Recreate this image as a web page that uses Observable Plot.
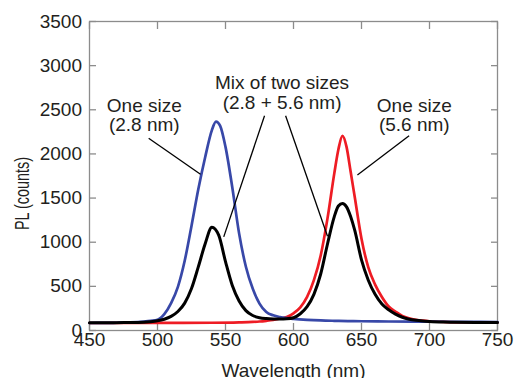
<!DOCTYPE html>
<html><head><meta charset="utf-8">
<script src="https://cdn.jsdelivr.net/npm/d3@7"></script>
<script src="https://cdn.jsdelivr.net/npm/@observablehq/plot@0.6"></script>
<style>body{margin:0;background:#fff}</style>
</head><body><div id="chart"></div>
<script>
// ---- data ----
const xTicks = [450, 500, 550, 600, 650, 700, 750];
const yTicks = [0, 500, 1000, 1500, 2000, 2500, 3000, 3500];

// One size (2.8 nm) - blue
const blueNm =     [450,460,470,480,490,495,500,505,510,515,520,525,530,535,540,543,546,550,555,560,565,570,575,580,585,590,595,600,610,620,630,640,650,670,700,725,750];
const blueCounts = [85,86,88,92,102,110,122,185,310,495,790,1185,1600,1960,2270,2367,2320,2080,1620,1100,722,475,305,210,172,152,140,132,121,114,110,107,105,102,100,98,96];

// One size (5.6 nm) - red
const redNm =     [450,480,510,540,560,570,575,580,585,590,595,600,605,610,615,620,625,630,633,636,639,642,645,650,655,660,665,670,675,680,685,690,695,700,710,720,735,750];
const redCounts = [85,86,87,88,92,97,102,110,120,135,152,195,262,380,570,850,1270,1780,2050,2205,2080,1800,1515,1040,715,520,380,272,215,165,138,122,112,105,97,93,91,90];

// Mix of two sizes - black
const mixNm =     [450,460,470,480,490,495,500,505,510,515,520,525,530,535,540,545,550,555,560,565,570,575,580,585,590,595,600,605,610,615,620,625,630,633,636,639,642,645,650,655,660,665,670,675,680,685,690,695,700,710,720,735,750];
const mixCounts = [88,88,89,90,94,100,110,128,160,215,310,475,720,980,1170,1080,780,510,335,225,170,145,135,131,130,133,145,190,270,410,640,980,1290,1410,1439,1400,1290,1136,800,570,410,300,235,185,150,128,115,107,102,96,93,92,92];

// annotations
const annotLabels = ["One size\n(2.8 nm)", "Mix of two sizes\n(2.8 + 5.6 nm)", "One size\n(5.6 nm)"];
const annotNm = [490.3, 591.6, 688.8];
const annotCounts = [2434, 2697, 2434];
const annotLineHeight = [0.97, 1.05, 0.97];
const leaderNm1 = [493.5, 578.7, 594.2, 685];
const leaderCounts1 = [2178, 2432, 2432, 2205];
const leaderNm2 = [531.6, 548.7, 625, 647];
const leaderCounts2 = [1769, 1060, 1068, 1761];

const xTitle = "Wavelength (nm)";
const yTitle = "PL (counts)";

// ---- chart ----
const toRows = (nm, counts) => nm.map((x, i) => ({nm: x, counts: counts[i]}));
const gray = "#8c8c8c";
const ink = "#231f20";
const plain = d => String(d);

const annotMarks = annotLabels.map((t, i) =>
  Plot.text([t], {x: () => annotNm[i], y: () => annotCounts[i], text: d => d,
    lineAnchor: "middle", textAnchor: "middle", lineHeight: annotLineHeight[i], fill: ink, fontSize: 19})
);

const chart = Plot.plot({
  width: 515, height: 378,
  marginLeft: 89, marginRight: 18, marginTop: 21, marginBottom: 48,
  x: {domain: [450, 750], label: null},
  y: {domain: [0, 3500], label: null},
  style: {fontFamily: "'Liberation Sans', Arial, Helvetica, sans-serif", fontSize: "19px", color: ink, background: "#fff"},
  marks: [
    Plot.frame({stroke: gray, strokeWidth: 1.3}),
    Plot.axisX(xTicks, {anchor: "bottom", tickSize: -7, tickFormat: () => "", stroke: gray, strokeWidth: 1.3, label: null}),
    Plot.axisX(xTicks, {anchor: "top", tickSize: -7, tickFormat: () => "", stroke: gray, strokeWidth: 1.3, label: null}),
    Plot.axisY(yTicks, {anchor: "left", tickSize: -7, tickFormat: () => "", stroke: gray, strokeWidth: 1.3, label: null}),
    Plot.axisY(yTicks, {anchor: "right", tickSize: -7, tickFormat: () => "", stroke: gray, strokeWidth: 1.3, label: null}),
    Plot.axisX(xTicks, {anchor: "bottom", tickSize: 0, tickPadding: 2, tickFormat: plain, label: null, fill: ink}),
    Plot.axisY(yTicks, {anchor: "left", tickSize: 0, tickPadding: 7.5, tickFormat: plain, label: null, fill: ink}),
    Plot.text([xTitle], {frameAnchor: "bottom", dy: 40, lineAnchor: "middle", textAnchor: "middle", text: d => d, fill: ink, fontSize: 19}),
    Plot.text([yTitle], {frameAnchor: "left", rotate: -90, dx: -67, dy: 17.5, lineAnchor: "middle", textAnchor: "middle", text: d => d, fill: ink, fontSize: 20}),
    Plot.line(toRows(redNm, redCounts), {x: "nm", y: "counts", stroke: "#ee1c24", strokeWidth: 2.7, curve: "monotone-x"}),
    Plot.line(toRows(blueNm, blueCounts), {x: "nm", y: "counts", stroke: "#3848a8", strokeWidth: 2.7, curve: "monotone-x"}),
    Plot.line(toRows(mixNm, mixCounts), {x: "nm", y: "counts", stroke: "#000", strokeWidth: 3, curve: "monotone-x"}),
    Plot.link(leaderNm1.map((_, i) => i), {
      x1: i => leaderNm1[i], y1: i => leaderCounts1[i],
      x2: i => leaderNm2[i], y2: i => leaderCounts2[i],
      stroke: "#000", strokeWidth: 1.3
    }),
    ...annotMarks
  ]
});
document.getElementById("chart").appendChild(chart);
// squeeze the y title along its reading direction, as in the reference
chart.querySelectorAll("text").forEach(t => {
  if (t.textContent === yTitle) {
    const tr = t.getAttribute("transform") || "";
    t.setAttribute("transform", tr + " scale(0.72,1)");
  }
});
</script>
</body></html>
